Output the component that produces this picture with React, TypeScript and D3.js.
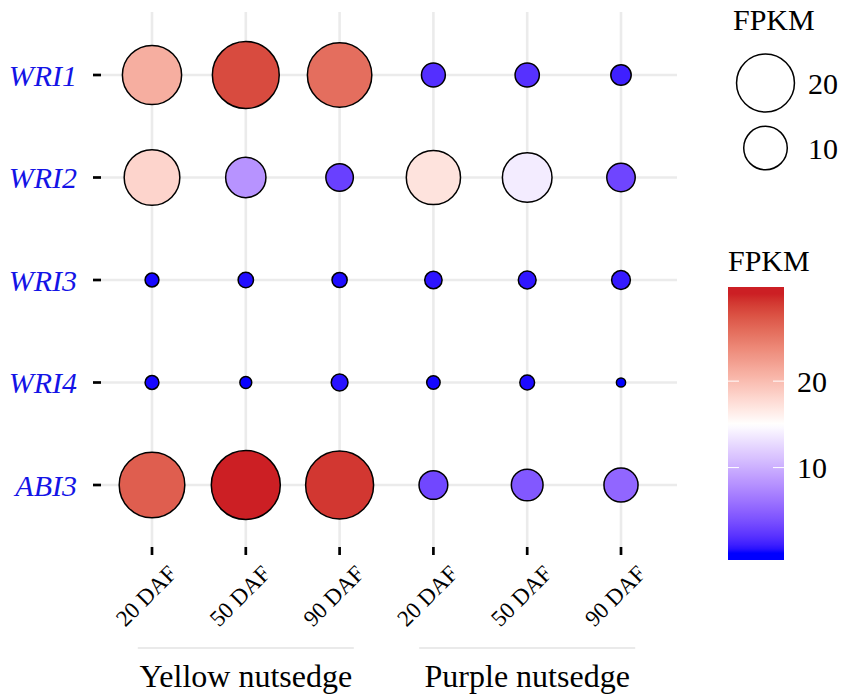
import { useEffect, useRef } from "react";
import { select, scalePoint, scaleLinear, interpolateLab, range, min, max } from "d3";

const genes = ["WRI1", "WRI2", "WRI3", "WRI4", "ABI3"];
const stages = ["20 DAF", "50 DAF", "90 DAF"];
const species = ["Yellow nutsedge", "Purple nutsedge"];
// FPKM per gene (rows) and stage (columns)
const yellowFpkm = [
  [21.1, 28.0, 25.7],
  [18.2, 8.2, 2.9],
  [0.28, 0.42, 0.4],
  [0.28, 0.16, 0.58],
  [26.8, 30.1, 29.1],
];
const purpleFpkm = [
  [1.9, 2.0, 1.15],
  [17.1, 13.8, 3.2],
  [0.66, 0.72, 0.87],
  [0.25, 0.36, 0.1],
  [3.3, 4.35, 5.3],
];
const sizeBreaks = [20, 10];
const colorBreaks = [20, 10];
const colorMid = 15;

const font = "'Times New Roman', 'Liberation Serif', serif";

function App() {
  const svgRef = useRef(null);
  const width = 845;
  const height = 700;

  useEffect(() => {
    const svg = select(svgRef.current);
    svg.selectAll("*").remove();

    const cols = species.flatMap((sp) => stages.map((st) => sp + "|" + st));
    const points = [];
    genes.forEach((g, gi) => {
      stages.forEach((st, si) => {
        points.push({ gene: g, col: species[0] + "|" + st, v: yellowFpkm[gi][si] });
        points.push({ gene: g, col: species[1] + "|" + st, v: purpleFpkm[gi][si] });
      });
    });
    const vals = points.map((d) => d.v);
    const vmin = min(vals);
    const vmax = max(vals);

    const panelLeft = 101;
    const panelRight = 677;
    const panelTop = 12;
    const panelBottom = 547;

    const x = scalePoint().domain(cols).range([152, 621]);
    const y = scalePoint().domain(genes).range([75, 485]);

    // size like ggplot area scale: sqrt of rescaled value
    const unit = scaleLinear().domain([vmin, vmax]).range([0, 1]);
    const rLin = scaleLinear().domain([0, 1]).range([4.6, 34.5]);
    const r = (v) => rLin(Math.sqrt(Math.max(0, unit(v))));

    const color = scaleLinear()
      .domain([vmin, colorMid, vmax])
      .range(["#0000FF", "#FFFFFF", "#CC1F24"])
      .interpolate(interpolateLab)
      .clamp(true);

    // grid
    const grid = svg.append("g");
    grid.selectAll("line.h")
      .data(genes)
      .join("line")
      .attr("x1", panelLeft).attr("x2", panelRight)
      .attr("y1", (d) => y(d)).attr("y2", (d) => y(d))
      .attr("stroke", "#EBEBEB").attr("stroke-width", 2.6);
    grid.selectAll("line.v")
      .data(cols)
      .join("line")
      .attr("y1", panelTop).attr("y2", panelBottom)
      .attr("x1", (d) => x(d)).attr("x2", (d) => x(d))
      .attr("stroke", "#EBEBEB").attr("stroke-width", 2.6);

    // ticks
    svg.append("g").selectAll("line")
      .data(genes)
      .join("line")
      .attr("x1", panelLeft - 8).attr("x2", panelLeft)
      .attr("y1", (d) => y(d)).attr("y2", (d) => y(d))
      .attr("stroke", "black").attr("stroke-width", 2.7);
    svg.append("g").selectAll("line")
      .data(cols)
      .join("line")
      .attr("x1", (d) => x(d)).attr("x2", (d) => x(d))
      .attr("y1", panelBottom).attr("y2", panelBottom + 8)
      .attr("stroke", "black").attr("stroke-width", 2.7);

    // y labels
    svg.append("g").selectAll("text")
      .data(genes)
      .join("text")
      .attr("x", panelLeft - 24)
      .attr("y", (d) => y(d))
      .attr("dy", "0.35em")
      .attr("text-anchor", "end")
      .attr("font-family", font)
      .attr("font-style", "italic")
      .attr("font-size", 30)
      .attr("fill", "#1414E6")
      .text((d) => d);

    // x labels
    svg.append("g").selectAll("text")
      .data(cols)
      .join("text")
      .attr("transform", (d) => `translate(${x(d) + 26},${panelBottom + 28}) rotate(-45)`)
      .attr("text-anchor", "end")
      .attr("font-family", font)
      .attr("font-size", 23)
      .attr("fill", "black")
      .text((d) => d.split("|")[1]);

    // species groups
    const groups = svg.append("g");
    species.forEach((sp) => {
      const xs = stages.map((st) => x(sp + "|" + st));
      const cx = (xs[0] + xs[xs.length - 1]) / 2;
      groups.append("line")
        .attr("x1", cx - 108).attr("x2", cx + 108)
        .attr("y1", 648).attr("y2", 648)
        .attr("stroke", "#E3E3E3").attr("stroke-width", 1.5);
      groups.append("text")
        .attr("x", cx).attr("y", 687)
        .attr("text-anchor", "middle")
        .attr("font-family", font)
        .attr("font-size", 32)
        .attr("fill", "black")
        .text(sp);
    });

    // bubbles
    svg.append("g").selectAll("circle")
      .data(points)
      .join("circle")
      .attr("cx", (d) => x(d.col))
      .attr("cy", (d) => y(d.gene))
      .attr("r", (d) => r(d.v))
      .attr("fill", (d) => color(d.v))
      .attr("stroke", "black")
      .attr("stroke-width", 1.5);

    // size legend
    const sl = svg.append("g");
    sl.append("text")
      .attr("x", 733).attr("y", 30)
      .attr("font-family", font).attr("font-size", 30)
      .text("FPKM");
    const slY = [83, 148];
    sizeBreaks.forEach((b, i) => {
      sl.append("circle")
        .attr("cx", 765.5).attr("cy", slY[i])
        .attr("r", r(b))
        .attr("fill", "white")
        .attr("stroke", "black")
        .attr("stroke-width", 1.5);
      sl.append("text")
        .attr("x", 808).attr("y", slY[i])
        .attr("dy", "0.35em")
        .attr("font-family", font).attr("font-size", 30)
        .text(b);
    });

    // colour bar
    const barX = 728;
    const barW = 56;
    const barTop = 287;
    const barBottom = 560;
    const pad = (barBottom - barTop) * 0.025;
    const cy = scaleLinear().domain([vmin, vmax]).range([barBottom - pad, barTop + pad]);
    const defs = svg.append("defs");
    const grad = defs.append("linearGradient")
      .attr("id", "fpkmGrad")
      .attr("x1", 0).attr("x2", 0).attr("y1", 1).attr("y2", 0);
    range(0, 61).forEach((i) => {
      const v = vmin + ((vmax - vmin) * i) / 60;
      grad.append("stop")
        .attr("offset", (barBottom - cy(v)) / (barBottom - barTop))
        .attr("stop-color", color(v));
    });
    const cl = svg.append("g");
    cl.append("text")
      .attr("x", barX).attr("y", 271)
      .attr("font-family", font).attr("font-size", 30)
      .text("FPKM");
    cl.append("rect")
      .attr("x", barX).attr("y", barTop)
      .attr("width", barW).attr("height", barBottom - barTop)
      .attr("fill", "url(#fpkmGrad)");
    colorBreaks.forEach((b) => {
      const ty = cy(b);
      cl.append("line")
        .attr("x1", barX).attr("x2", barX + 11)
        .attr("y1", ty).attr("y2", ty)
        .attr("stroke", "white").attr("stroke-width", 1);
      cl.append("line")
        .attr("x1", barX + barW - 11).attr("x2", barX + barW)
        .attr("y1", ty).attr("y2", ty)
        .attr("stroke", "white").attr("stroke-width", 1);
      cl.append("text")
        .attr("x", 797).attr("y", ty)
        .attr("dy", "0.35em")
        .attr("font-family", font).attr("font-size", 30)
        .text(b);
    });
  }, []);

  return (
    <svg
      ref={svgRef}
      width={width}
      height={height}
      style={{ position: "absolute", left: 0, top: 0, background: "white" }}
    />
  );
}

export default App;
